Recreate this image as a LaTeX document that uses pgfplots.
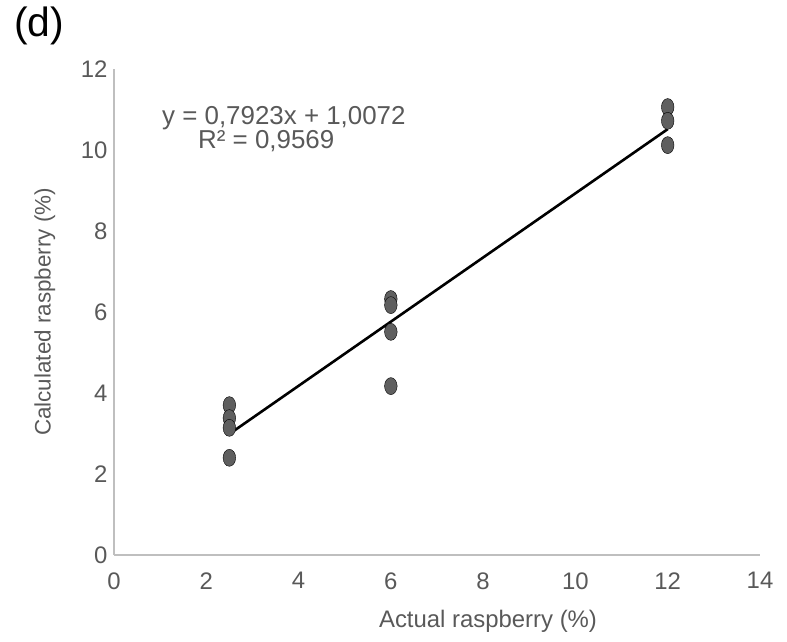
\documentclass[border=0pt]{standalone}
\usepackage{pgfplots}
\pgfplotsset{compat=1.18}
\usepackage{fontspec}
\setmainfont{Liberation Sans}
\definecolor{txt}{HTML}{595959}
\definecolor{axl}{HTML}{BFBFBF}
\definecolor{mk}{HTML}{5F5F5F}
\begin{document}
\begin{tikzpicture}
\path[use as bounding box] (-114bp,-87bp) rectangle (673bp,555bp);
\begin{axis}[
  at={(0,0)}, anchor=south west,
  scale only axis, width=646bp, height=486bp,
  xmin=0, xmax=14, ymin=0, ymax=12,
  xtick={0,2,...,14}, ytick={0,2,...,12},
  axis x line*=bottom, axis y line*=left,
  x axis line style={-}, y axis line style={-},
  axis line style={draw=axl, line width=1.5bp},
  major tick length=0pt,
  tick style={draw=none},
  /pgf/number format/assume math mode=true,
  ticklabel style={font=\fontsize{24}{28}\selectfont, text=txt},
  xticklabel style={yshift=-14bp},
  yticklabel style={xshift=-3bp},
  xlabel={Actual raspberry (\%)},
  ylabel={Calculated raspberry (\%)},
  xlabel style={at={(axis description cs:0.579,0)}, anchor=center, yshift=-66bp, font=\fontsize{24}{28}\selectfont, text=txt},
  ylabel style={at={(axis description cs:-0.107,0.5)}, anchor=center, font=\fontsize{22.5}{26}\selectfont, text=txt},
  clip=false,
]
\addplot[only marks, mark=*, mark size=8.5bp, mark options={xscale=0.74, fill=mk, draw=none}] coordinates {
  (2.5,3.70) (2.5,3.38) (2.5,3.14) (2.5,2.40)
  (6,6.32) (6,6.17) (6,5.51) (6,4.17)
  (12,11.06) (12,10.72) (12,10.12)
};
\addplot[black, line width=2.6bp] coordinates {(2.5,2.988) (12,10.515)};
\node[anchor=base west, text=txt, font=\fontsize{26}{30}\selectfont, inner sep=0pt] at (axis cs:1.04,10.64) {y = 0,7923x + 1,0072};
\node[anchor=base west, text=txt, font=\fontsize{26}{30}\selectfont, inner sep=0pt] at (axis cs:1.82,10.03) {R² = 0,9569};
\end{axis}
\node[anchor=base west, inner sep=0pt, font=\fontsize{41}{45}\selectfont] at (-100bp,518bp) {(d)};
\end{tikzpicture}
\end{document}
